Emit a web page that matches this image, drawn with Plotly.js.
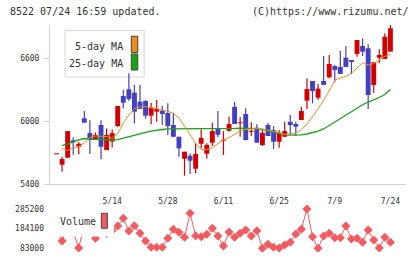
<!DOCTYPE html>
<html>
<head>
<meta charset="utf-8">
<script src="https://cdn.plot.ly/plotly-3.0.1.min.js"></script>
<style>
html,body{margin:0;padding:0;background:#fff;}
#chart{width:420px;height:259px;}
</style>
</head>
<body>
<div id="chart"></div>
<script>
// ---- data ----
const dates = ["4/25","4/26","4/30","5/1","5/2","5/7","5/8","5/9","5/10","5/13",
  "5/14","5/15","5/16","5/17","5/20","5/21","5/22","5/23","5/24","5/27",
  "5/28","5/29","5/30","5/31","6/3","6/4","6/5","6/6","6/7","6/10",
  "6/11","6/12","6/13","6/14","6/17","6/18","6/19","6/20","6/21","6/24",
  "6/25","6/26","6/27","6/28","7/1","7/2","7/3","7/4","7/5","7/8",
  "7/9","7/10","7/11","7/12","7/16","7/17","7/18","7/19","7/22","7/23","7/24"];

const openP  = [5683,5584,5651,5817,5756,6027,5886,5820,5963,5724,
  5805,5953,6240,6304,6271,6185,6192,6052,6090,6099,
  6077,5963,5851,5641,5670,5546,5784,5689,5794,5934,
  5813,5908,6137,5979,6068,5896,5937,5772,5963,5915,
  5803,5851,5994,5972,6011,6195,6383,6223,6383,6418,
  6526,6517,6605,6583,6641,6717,6695,6345,6605,6593,6663];
const highP  = [5683,5660,5905,5845,5804,6096,6008,5893,6008,5930,
  5920,6144,6297,6456,6345,6345,6201,6176,6201,6144,
  6170,6080,5851,5708,5693,5788,5922,5788,5985,6096,
  5905,6042,6185,6036,6122,5989,5969,5915,5985,5953,
  5915,5994,6058,5994,6137,6409,6383,6354,6622,6631,
  6536,6669,6717,6583,6774,6790,6733,6561,6685,6838,6917];
const lowP   = [5683,5517,5651,5680,5683,5985,5686,5820,5635,5724,
  5748,5944,6122,6192,5979,6116,6023,5969,5994,5963,
  5867,5845,5660,5479,5495,5502,5740,5641,5762,5845,
  5676,5899,5972,5851,5815,5858,5794,5762,5858,5734,
  5746,5851,5867,5858,6011,6116,6170,6201,6345,6409,
  6370,6450,6517,6450,6615,6622,6116,6271,6552,6593,6663];
const closeP = [5683,5638,5905,5798,5784,5985,5820,5867,5756,5867,
  5885,6144,6176,6211,6090,6116,6052,6128,6116,6068,
  5953,5851,5740,5708,5622,5686,5839,5772,5905,5870,
  5822,5972,5972,5985,5820,5903,5794,5889,5858,5803,
  5889,5905,5963,5947,6096,6306,6287,6310,6345,6545,
  6488,6450,6517,6564,6774,6663,6249,6561,6631,6806,6886];

const ma5 = [null,5740,5719,5743,5758,5791,5843,5858,5858,5853,
  5839,5882,5982,6058,6120,6135,6139,6130,6120,6106,
  6096,6073,6030,5953,5863,5786,5729,5729,5748,5786,
  5820,5843,5877,5905,5920,5926,5931,5925,5913,5905,
  5891,5872,5875,5886,5920,5972,6039,6116,6201,6287,
  6392,6411,6428,6456,6504,6555,6536,6548,6583,6617,6638];
const ma25 = [null,5767,5781,5802,5821,5834,5831,5827,5823,5821,
  5820,5824,5839,5853,5869,5884,5893,5905,5915,5920,
  5925,5925,5925,5925,5925,5925,5925,5925,5925,5925,
  5929,5931,5931,5934,5934,5936,5929,5922,5910,5896,
  5882,5872,5867,5867,5869,5877,5888,5905,5925,5958,
  5991,6027,6061,6095,6130,6156,6182,6201,6225,6254,6302];

const volume = [180000,120600,200000,166000,85000,206000,190000,134500,170000,160000,
  175000,197700,237400,172000,199300,160200,120600,88100,88100,88100,
  134500,180800,165300,139600,263100,147800,142700,155000,185900,146300,
  94800,166900,139600,160200,177200,146300,173600,83000,103600,88100,
  84000,100000,113900,156600,180800,285200,142700,83500,146300,160200,
  137500,137500,197700,130800,134500,113900,177200,125700,84500,139600,113900];

const labelDates = ["5/14","5/28","6/11","6/25","7/9","7/24"];
const priceTicks = [5400,6000,6600];
const volumeTicks = [83000,184100,285200];

const titleText = "8522 07/24 16:59 updated.";
const creditText = "(C)https://www.rizumu.net/";

// ---- styling ----
const RED = "#d40000", BLUE = "#4141c3", ORANGE = "#f08c1c", GREEN = "#12a612";
const VOLC = "#f45a5e", AXIS = "#d2d2d2", TXT = "#333333";
const MONO = "DejaVu Sans Mono, monospace";
const W = 420, H = 259, ML = 50, MR = 14.3, MT = 25, MB = 5;
const PW = W - ML - MR, PH = H - MT - MB;
const px = x => (x - ML) / PW;
const py = y => (H - MB - y) / PH;

const idx = dates.map((d, i) => i);
const isUp = idx.map(i => closeP[i] >= openP[i]);
const MINBODY = 10;

function wickTrace(up) {
  const xs = [], ys = [];
  idx.forEach(i => {
    if (isUp[i] === up && highP[i] > lowP[i]) {
      xs.push(i, i, null); ys.push(lowP[i], highP[i], null);
    }
  });
  return {type: "scatter", mode: "lines", x: xs, y: ys, xaxis: "x", yaxis: "y",
    line: {color: up ? RED : BLUE, width: 1.2}, hoverinfo: "skip", showlegend: false};
}
function bodyTrace(up) {
  const sel = idx.filter(i => isUp[i] === up);
  return {type: "bar", x: sel,
    base: sel.map(i => Math.min(openP[i], closeP[i])),
    y: sel.map(i => Math.max(Math.abs(closeP[i] - openP[i]), MINBODY)),
    width: 0.88, xaxis: "x", yaxis: "y",
    marker: {color: up ? RED : BLUE, line: {width: 0}}, showlegend: false};
}

const traces = [
  wickTrace(true), wickTrace(false), bodyTrace(true), bodyTrace(false),
  {type: "scatter", mode: "lines", x: idx, y: ma25, xaxis: "x", yaxis: "y",
   line: {color: GREEN, width: 1.3}, showlegend: false},
  {type: "scatter", mode: "lines", x: idx, y: ma5, xaxis: "x", yaxis: "y",
   line: {color: ORANGE, width: 1}, showlegend: false},
  {type: "scatter", mode: "lines+markers", x: idx, y: volume, xaxis: "x2", yaxis: "y2",
   line: {color: VOLC, width: 1},
   marker: {symbol: "diamond", size: 7, color: VOLC}, showlegend: false}
];

const xr = [-1.17, 62.8];
const tickFont = {family: MONO, size: 8, color: TXT};

const layout = {
  width: W, height: H,
  margin: {l: ML, r: MR, t: MT, b: MB, pad: 0},
  paper_bgcolor: "#fff", plot_bgcolor: "rgba(0,0,0,0)",
  barmode: "overlay", showlegend: false,
  xaxis: {domain: [0, 1], anchor: "y", range: xr, showgrid: false, zeroline: false,
    showline: true, linecolor: AXIS, linewidth: 1,
    tickmode: "array", tickvals: labelDates.map(d => dates.indexOf(d)), ticktext: labelDates,
    ticks: "", tickfont: tickFont, ticklabelstandoff: 9},
  xaxis2: {domain: [0, 1], anchor: "y2", matches: "x", showgrid: false, zeroline: false,
    showline: false, ticks: "", showticklabels: false},
  xaxis3: {overlaying: "x", anchor: "y", range: [0, 11], tickmode: "linear", tick0: 0, dtick: 1,
    ticks: "outside", ticklen: 5, tickcolor: AXIS, tickwidth: 1,
    showticklabels: false, showgrid: false, zeroline: false, showline: false},
  xaxis4: {overlaying: "x", anchor: "y", range: [0, 11], tickmode: "linear", tick0: 0, dtick: 1,
    ticks: "inside", ticklen: 3, tickcolor: AXIS, tickwidth: 1,
    showticklabels: false, showgrid: false, zeroline: false, showline: false},
  yaxis: {domain: [py(184), 1], anchor: "x", range: [5400, 6917], showgrid: false, zeroline: false,
    showline: true, linecolor: AXIS, linewidth: 1,
    tickmode: "array", tickvals: priceTicks, ticktext: priceTicks.map(String),
    ticks: "outside", ticklen: 5, tickcolor: AXIS,
    tickfont: tickFont, ticklabelstandoff: 3},
  yaxis3: {overlaying: "y", anchor: "x", range: [5400, 6917], tickmode: "array", tickvals: priceTicks,
    ticks: "inside", ticklen: 3, tickcolor: AXIS, showticklabels: false,
    showgrid: false, zeroline: false, showline: false},
  yaxis2: {domain: [py(252), py(205)], anchor: "x2", range: [63963, 305780],
    showgrid: false, zeroline: false, showline: false, ticks: "",
    tickmode: "array", tickvals: volumeTicks, ticktext: volumeTicks.map(String),
    tickfont: tickFont, ticklabelstandoff: 5},
  shapes: [
    {type: "rect", xref: "paper", yref: "paper", x0: px(65), x1: px(144), y0: py(77), y1: py(30.5),
     line: {color: "#d8d8d8", width: 1}, fillcolor: "#fff", layer: "below"},
    {type: "rect", xref: "paper", yref: "paper", x0: px(131.2), x1: px(137.7), y0: py(52.5), y1: py(36.2),
     line: {color: "#444", width: 1}, fillcolor: ORANGE},
    {type: "rect", xref: "paper", yref: "paper", x0: px(131.2), x1: px(137.7), y0: py(70), y1: py(54),
     line: {color: "#444", width: 1}, fillcolor: GREEN},
    {type: "rect", xref: "paper", yref: "paper", x0: px(50), x1: px(114), y0: py(236.5), y1: py(204),
     line: {width: 0}, fillcolor: "#fff", layer: "above"},
    {type: "rect", xref: "paper", yref: "paper", x0: px(101.3), x1: px(107.3), y0: py(228.3), y1: py(213.3),
     line: {color: "#444", width: 1}, fillcolor: VOLC, layer: "above"}
  ],
  annotations: [
    {xref: "paper", yref: "paper", x: px(8), y: py(12), xanchor: "left", yanchor: "middle",
     text: titleText, showarrow: false, font: {family: MONO, size: 10, color: TXT}},
    {xref: "paper", yref: "paper", x: px(410.5), y: py(12), xanchor: "right", yanchor: "middle",
     text: creditText, showarrow: false, font: {family: MONO, size: 10, color: TXT}},
    {xref: "paper", yref: "paper", x: px(124.8), y: py(46), xanchor: "right", yanchor: "middle",
     text: "5-day MA", showarrow: false, font: {family: MONO, size: 10, color: TXT}},
    {xref: "paper", yref: "paper", x: px(124.8), y: py(63.5), xanchor: "right", yanchor: "middle",
     text: "25-day MA", showarrow: false, font: {family: MONO, size: 10, color: TXT}},
    {xref: "paper", yref: "paper", x: px(58), y: py(221.5), xanchor: "left", yanchor: "middle",
     text: "Volume", showarrow: false, font: {family: MONO, size: 10, color: TXT}}
  ]
};

Plotly.newPlot("chart", traces, layout, {displayModeBar: false, staticPlot: true});
</script>
</body>
</html>
